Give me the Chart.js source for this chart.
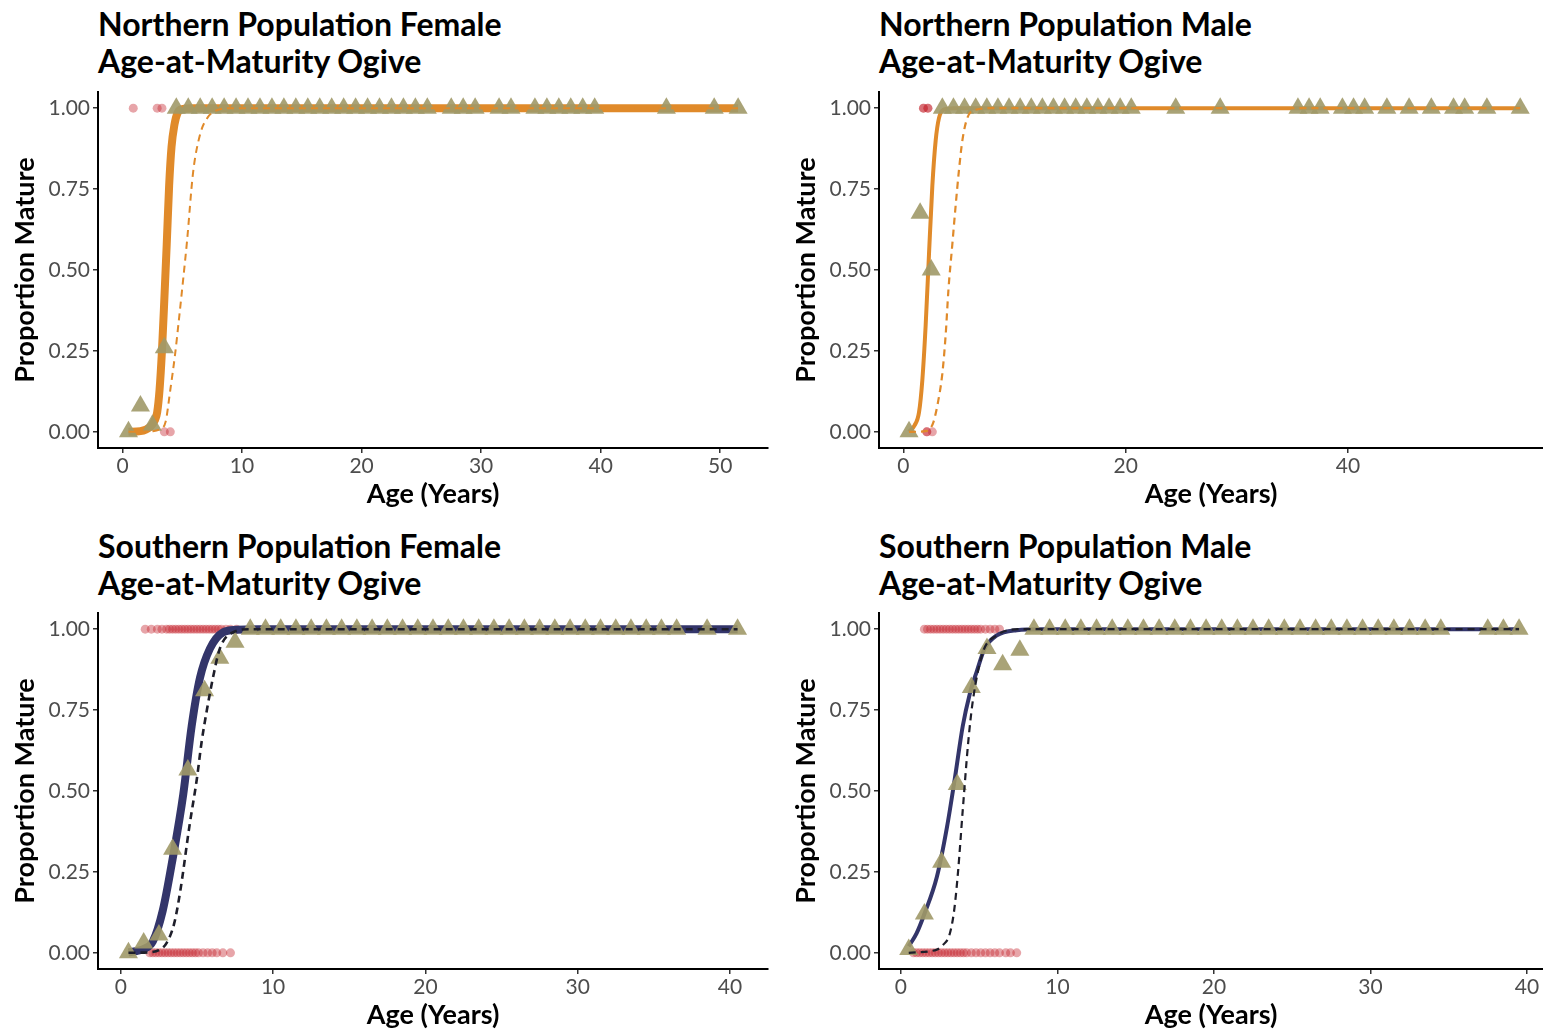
<!DOCTYPE html>
<html>
<head>
<meta charset="utf-8">
<script src="https://cdn.jsdelivr.net/npm/chart.js@4.4.1/dist/chart.umd.min.js"></script>
<style>
body { margin:0; background:#fff; width:1543px; height:1031px; position:relative; overflow:hidden; }
.ttl { position:absolute; font:bold 32px Lato, sans-serif; color:#000; line-height:37px; white-space:nowrap; }
canvas { position:absolute; }
</style>
</head>
<body>
<div class="ttl" style="left:98px;top:5px">Northern Population Female<br>Age-at-Maturity Ogive</div>
<div class="ttl" style="left:879px;top:5px">Northern Population Male<br>Age-at-Maturity Ogive</div>
<div class="ttl" style="left:98px;top:527px">Southern Population Female<br>Age-at-Maturity Ogive</div>
<div class="ttl" style="left:879px;top:527px">Southern Population Male<br>Age-at-Maturity Ogive</div>

<canvas id="nf" width="775" height="422" style="left:0;top:88px"></canvas>
<canvas id="nm" width="762" height="422" style="left:781px;top:88px"></canvas>
<canvas id="sf" width="775" height="423" style="left:0;top:608px"></canvas>
<canvas id="sm" width="762" height="423" style="left:781px;top:608px"></canvas>

<script>
// tick labels
var yTicks = [0, 0.25, 0.5, 0.75, 1];
var nfXTicks = [0, 10, 20, 30, 40, 50];
var nmXTicks = [0, 20, 40];
var sXTicks = [0, 10, 20, 30, 40];

// Northern female
var nfTriAge = [0.5, 1.5, 2.5, 3.5, 4.5, 5.5, 6.5, 7.5, 8.5, 9.5, 10.5, 11.5, 12.5, 13.5, 14.5, 15.5, 16.5, 17.5, 18.5, 19.5, 20.5, 21.5, 22.5, 23.5, 24.5, 25.5, 27.5, 28.5, 29.5, 31.5, 32.5, 34.5, 35.5, 36.5, 37.5, 38.5, 39.5, 45.5, 49.5, 51.5];
var nfTriProp = [0, 0.08, 0.02, 0.26, 1, 1, 1, 1, 1, 1, 1, 1, 1, 1, 1, 1, 1, 1, 1, 1, 1, 1, 1, 1, 1, 1, 1, 1, 1, 1, 1, 1, 1, 1, 1, 1, 1, 1, 1, 1];
var nfFitAge = [0.5, 1.5, 2.3, 2.7, 2.9, 3.1, 3.3, 3.5, 3.7, 3.9, 4.1, 4.35, 4.6, 5.0, 6.0, 51.5];
var nfFitProp = [0, 0.002, 0.015, 0.035, 0.06, 0.13, 0.25, 0.41, 0.58, 0.76, 0.88, 0.95, 0.985, 0.997, 1, 1];
var nfDashAge = [0.5, 2.5, 3.2, 3.6, 4.0, 4.4, 4.7, 5.1, 5.4, 5.9, 6.5, 7.1, 8.0, 9.0, 51.5];
var nfDashProp = [0, 0.002, 0.01, 0.03, 0.13, 0.24, 0.34, 0.48, 0.59, 0.8, 0.92, 0.97, 0.995, 1, 1];
var nfRedTop = [0.9, 2.9, 3.3];
var nfRedBottom = [3.5, 4.0];

// Northern male
var nmTriAge = [0.5, 1.5, 2.5, 3.5, 4.5, 5.5, 6.5, 7.5, 8.5, 9.5, 10.5, 11.5, 12.5, 13.5, 14.5, 15.5, 16.5, 17.5, 18.5, 19.5, 20.5, 24.5, 28.5, 35.5, 36.5, 37.5, 39.5, 40.5, 41.5, 43.5, 45.5, 47.5, 49.5, 50.5, 52.5, 55.5];
var nmTriProp = [0, 0.675, 0.5, 1, 1, 1, 1, 1, 1, 1, 1, 1, 1, 1, 1, 1, 1, 1, 1, 1, 1, 1, 1, 1, 1, 1, 1, 1, 1, 1, 1, 1, 1, 1, 1, 1];
var nmFitAge = [0.5, 1.0, 1.4, 1.7, 2.0, 2.3, 2.6, 2.9, 3.2, 3.6, 4.5, 55.5];
var nmFitProp = [0, 0.02, 0.06, 0.16, 0.33, 0.55, 0.76, 0.9, 0.97, 0.995, 1, 1];
var nmDashAge = [0.5, 2.0, 2.4, 2.7, 3.1, 3.5, 3.8, 4.05, 4.4, 4.7, 5.0, 5.3, 5.75, 6.5, 8.0, 55.5];
var nmDashProp = [0, 0.002, 0.01, 0.03, 0.09, 0.18, 0.3, 0.44, 0.58, 0.7, 0.81, 0.9, 0.97, 0.995, 1, 1];
var nmRedTop = [1.8, 1.8, 2.2, 2.2];
var nmRedBottom = [2.1, 2.1, 2.6];

// Southern female
var sfTriAge = [0.5, 1.5, 2.5, 3.4, 4.4, 5.5, 6.5, 7.5, 8.5, 9.5, 10.5, 11.5, 12.5, 13.5, 14.5, 15.5, 16.5, 17.5, 18.5, 19.5, 20.5, 21.5, 22.5, 23.5, 24.5, 25.5, 26.5, 27.5, 28.5, 29.5, 30.5, 31.5, 32.5, 33.5, 34.5, 35.5, 36.5, 38.5, 40.5];
var sfTriProp = [0, 0.03, 0.055, 0.32, 0.565, 0.81, 0.91, 0.96, 1, 1, 1, 1, 1, 1, 1, 1, 1, 1, 1, 1, 1, 1, 1, 1, 1, 1, 1, 1, 1, 1, 1, 1, 1, 1, 1, 1, 1, 1, 1];
var sfFitAge = [0.5, 1.0, 1.5, 2.1, 2.75, 3.4, 4.1, 4.65, 5.2, 5.85, 6.7, 7.6, 9.0, 40.5];
var sfFitProp = [0.002, 0.005, 0.012, 0.035, 0.13, 0.29, 0.49, 0.7, 0.85, 0.94, 0.99, 0.998, 1, 1];
var sfDashAge = [0.5, 2.0, 2.5, 3.0, 3.5, 3.9, 4.5, 5.0, 5.3, 5.65, 6.05, 6.5, 7.35, 8.5, 40.5];
var sfDashProp = [0, 0.002, 0.008, 0.03, 0.09, 0.19, 0.39, 0.54, 0.65, 0.75, 0.85, 0.94, 0.99, 1, 1];
var sfRedTop = [1.6, 2.0, 2.4, 2.7, 3.0, 3.2, 3.4, 3.6, 3.8, 4.0, 4.2, 4.4, 4.6, 4.8, 5.0, 5.2, 5.4, 5.6, 5.8, 6.0, 6.2, 6.4, 6.6, 6.9, 7.2, 7.6];
var sfRedBottom = [1.9, 2.1, 2.3, 2.5, 2.7, 2.9, 3.1, 3.3, 3.5, 3.7, 3.9, 4.1, 4.3, 4.5, 4.7, 4.9, 5.1, 5.4, 5.7, 6.0, 6.3, 6.7, 7.2];

// Southern male
var smTriAge = [0.5, 1.5, 2.6, 3.6, 4.5, 5.5, 6.5, 7.6, 8.5, 9.5, 10.5, 11.5, 12.5, 13.5, 14.5, 15.5, 16.5, 17.5, 18.5, 19.5, 20.5, 21.5, 22.5, 23.5, 24.5, 25.5, 26.5, 27.5, 28.5, 29.5, 30.5, 31.5, 32.5, 33.5, 34.5, 37.5, 38.5, 39.5];
var smTriProp = [0.01, 0.12, 0.28, 0.52, 0.82, 0.94, 0.89, 0.935, 1, 1, 1, 1, 1, 1, 1, 1, 1, 1, 1, 1, 1, 1, 1, 1, 1, 1, 1, 1, 1, 1, 1, 1, 1, 1, 1, 1, 1, 1];
var smFitAge = [0.5, 1.0, 1.5, 2.3, 2.95, 3.45, 3.95, 4.4, 4.85, 5.35, 6.1, 7.4, 9.0, 39.5];
var smFitProp = [0.02, 0.06, 0.12, 0.235, 0.39, 0.54, 0.7, 0.8, 0.87, 0.94, 0.98, 0.997, 1, 1];
var smDashAge = [0.5, 2.3, 2.7, 3.1, 3.4, 3.65, 3.95, 4.3, 4.6, 5.25, 6.1, 7.5, 39.5];
var smDashProp = [0, 0.01, 0.025, 0.055, 0.13, 0.25, 0.44, 0.65, 0.78, 0.93, 0.98, 1, 1];
var smRedTop = [1.5, 1.7, 1.9, 2.1, 2.3, 2.5, 2.7, 2.9, 3.1, 3.3, 3.5, 3.7, 3.9, 4.1, 4.3, 4.5, 4.7, 4.9, 5.1, 5.4, 5.7, 6.0, 6.3];
var smRedBottom = [0.8, 1.0, 1.2, 1.4, 1.6, 1.8, 2.0, 2.2, 2.4, 2.6, 2.8, 3.0, 3.2, 3.4, 3.6, 3.8, 4.0, 4.2, 4.5, 4.8, 5.1, 5.4, 5.7, 6.0, 6.3, 6.7, 7.0, 7.4];

var ORANGE = '#e08a2a';
var NAVY = '#33356a';
var TRI = 'rgba(160,153,104,0.9)';
var RED = 'rgba(195,30,40,0.4)';

function pairs(xs, ys) {
    var out = [];
    for (var i = 0; i < xs.length; i++) out.push({x: xs[i], y: ys[i]});
    return out;
}

function flat(xs, v) {
    var out = [];
    for (var i = 0; i < xs.length; i++) out.push({x: xs[i], y: v});
    return out;
}

// fixed axis box sizes, no extra label overhang padding
function fixBox(size) {
    return function (s) {
        if (s.isHorizontal()) s.height = size; else s.width = size;
        s.paddingTop = 0; s.paddingBottom = 0; s.paddingLeft = 0; s.paddingRight = 0;
    };
}

function makePanel(id, p) {
    var tickFont = {family: 'Lato', size: 21};
    var titleFont = {family: 'Lato', size: 27, weight: 'bold'};
    var red = flat(p.redTop, 1).concat(flat(p.redBottom, 0));

    new Chart(document.getElementById(id), {
        type: 'scatter',
        data: {
            datasets: [
                {
                    data: pairs(p.dashAge, p.dashProp), showLine: true, pointRadius: 0,
                    borderColor: p.dashColor, borderWidth: p.dashWidth, borderDash: [7, 5],
                    cubicInterpolationMode: 'monotone', order: 0
                },
                {
                    data: pairs(p.triAge, p.triProp), pointStyle: 'triangle', pointRadius: 11,
                    backgroundColor: TRI, borderWidth: 0, clip: false, order: 1
                },
                {
                    data: pairs(p.fitAge, p.fitProp), showLine: true, pointRadius: 0,
                    borderColor: p.fitColor, borderWidth: p.fitWidth,
                    cubicInterpolationMode: 'monotone', order: 2
                },
                {
                    data: red, pointRadius: 4.5, backgroundColor: RED, borderWidth: 0, order: 3
                }
            ]
        },
        options: {
            responsive: false,
            animation: false,
            events: [],
            layout: {autoPadding: false, padding: {top: p.padTop, right: p.padRight, left: 0, bottom: 0}},
            plugins: {legend: {display: false}, tooltip: {enabled: false}},
            scales: {
                x: {
                    type: 'linear', min: p.xMin, max: p.xMax,
                    afterFit: fixBox(62),
                    afterBuildTicks: function (s) { s.ticks = p.xTicks.map(function (v) { return {value: v}; }); },
                    grid: {display: true, drawOnChartArea: false, drawTicks: true, tickLength: 5, tickColor: '#333', lineWidth: 1.5},
                    border: {display: true, color: '#000', width: 2},
                    ticks: {color: '#4d4d4d', font: tickFont, padding: 1, maxRotation: 0},
                    title: {display: true, text: 'Age (Years)', color: '#000', font: titleFont, padding: {top: 0, bottom: 0}}
                },
                y: {
                    type: 'linear', min: -0.05, max: 1.05,
                    afterFit: fixBox(98),
                    afterBuildTicks: function (s) { s.ticks = yTicks.map(function (v) { return {value: v}; }); },
                    grid: {display: true, drawOnChartArea: false, drawTicks: true, tickLength: 5, tickColor: '#333', lineWidth: 1.5},
                    border: {display: true, color: '#000', width: 2},
                    ticks: {color: '#4d4d4d', font: tickFont, padding: 3, callback: function (v) { return v.toFixed(2); }},
                    title: {display: true, text: 'Proportion Mature', color: '#000', font: titleFont, padding: {top: 9, bottom: 0}}
                }
            }
        }
    });
}

makePanel('nf', {
    triAge: nfTriAge, triProp: nfTriProp, fitAge: nfFitAge, fitProp: nfFitProp,
    dashAge: nfDashAge, dashProp: nfDashProp, redTop: nfRedTop, redBottom: nfRedBottom,
    fitColor: ORANGE, fitWidth: 8, dashColor: ORANGE, dashWidth: 2,
    xMin: -2.05, xMax: 54.0, xTicks: nfXTicks, padTop: 4, padRight: 7
});
makePanel('nm', {
    triAge: nmTriAge, triProp: nmTriProp, fitAge: nmFitAge, fitProp: nmFitProp,
    dashAge: nmDashAge, dashProp: nmDashProp, redTop: nmRedTop, redBottom: nmRedBottom,
    fitColor: ORANGE, fitWidth: 4, dashColor: ORANGE, dashWidth: 2.2,
    xMin: -2.2, xMax: 57.55, xTicks: nmXTicks, padTop: 4, padRight: 0
});
makePanel('sf', {
    triAge: sfTriAge, triProp: sfTriProp, fitAge: sfFitAge, fitProp: sfFitProp,
    dashAge: sfDashAge, dashProp: sfDashProp, redTop: sfRedTop, redBottom: sfRedBottom,
    fitColor: NAVY, fitWidth: 8, dashColor: '#1e1e2a', dashWidth: 2.6,
    xMin: -1.5, xMax: 42.5, xTicks: sXTicks, padTop: 5, padRight: 7
});
makePanel('sm', {
    triAge: smTriAge, triProp: smTriProp, fitAge: smFitAge, fitProp: smFitProp,
    dashAge: smDashAge, dashProp: smDashProp, redTop: smRedTop, redBottom: smRedBottom,
    fitColor: NAVY, fitWidth: 4, dashColor: '#1e1e2a', dashWidth: 2.2,
    xMin: -1.4, xMax: 41.03, xTicks: sXTicks, padTop: 5, padRight: 0
});
</script>
</body>
</html>
